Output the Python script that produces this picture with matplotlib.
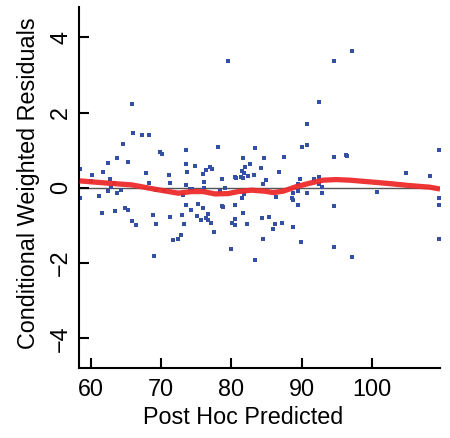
import matplotlib
matplotlib.use("Agg")
import matplotlib.pyplot as plt

plt.rcParams['font.family'] = ['Liberation Sans', 'DejaVu Sans']

pred = [66.02, 67.30, 68.29, 64.59, 69.86, 70.14, 63.74, 62.46, 65.31, 58.44,
        61.75, 60.18, 67.87, 71.14, 62.75, 60.04, 63.31, 68.29, 71.28, 62.89,
        62.46, 64.31, 63.74, 69.29, 70.43, 58.48, 61.18, 61.61, 63.46, 64.88,
        65.31, 68.86, 71.28, 65.87, 66.44, 69.29, 69.00, 65.87, 79.49,
        78.11, 83.37, 73.56, 81.66, 73.56, 74.84, 76.97, 77.25, 76.40, 82.66,
        81.95, 81.52, 81.81, 73.70, 75.97, 83.23, 82.38, 81.38, 81.66, 80.53,
        80.67, 78.68, 84.22, 76.12, 73.56, 74.13, 74.41, 76.12, 79.10, 78.39,
        73.13, 81.81, 81.52, 73.56, 75.26, 75.97, 74.27, 80.53, 78.68, 78.82,
        81.66, 76.69, 72.99, 75.12, 76.40, 75.69, 76.69, 77.11, 80.53, 80.10,
        80.53, 82.23, 73.27, 77.54, 72.84, 72.42, 71.71, 79.96, 83.37,
        90.77, 90.06, 90.77, 84.65, 87.50, 94.61, 96.32, 96.46, 86.79, 84.94,
        84.51, 89.77, 91.76, 92.48, 92.48, 89.49, 92.90, 88.78, 89.49, 90.77,
        92.90, 86.36, 88.63, 88.78, 89.49, 94.61, 84.37, 85.36, 86.22, 87.21,
        85.93, 88.78, 84.51, 89.91, 94.61, 97.17, 94.61, 92.48,
        109.50, 104.85, 108.26, 100.73, 109.50, 109.50, 109.50, 97.17]

resid = [1.455, 1.40, 1.40, 1.16, 0.95, 0.89, 0.79, 0.66, 0.68, 0.50,
         0.42, 0.34, 0.39, 0.34, 0.23, 0.18, 0.125, 0.125, 0.125, 0.02,
         -0.09, -0.06, -0.14, -0.06, -0.09, -0.27, -0.22, -0.67, -0.62, -0.54,
         -0.59, -0.73, -0.78, -0.89, -0.99, -0.97, -1.82, 2.23, 3.37,
         1.08, 1.06, 1.00, 0.79, 0.63, 0.58, 0.55, 0.50, 0.47, 0.63,
         0.55, 0.44, 0.39, 0.42, 0.36, 0.34, 0.31, 0.28, 0.26, 0.28,
         0.26, 0.23, 0.52, 0.15, 0.07, -0.035, -0.035, -0.01, -0.01, -0.09,
         -0.19, -0.17, -0.27, -0.46, -0.43, -0.54, -0.59, -0.46, -0.49, -0.51,
         -0.67, -0.70, -0.73, -0.75, -0.81, -0.86, -0.86, -0.94, -0.83, -0.94,
         -0.99, -0.97, -0.97, -1.18, -1.26, -1.36, -1.39, -1.63, -1.92,
         1.69, 1.08, 1.14, 0.79, 0.82, 0.82, 0.87, 0.84, 0.42, 0.20,
         0.10, 0.23, 0.23, 0.28, 0.10, 0.10, 0.02, -0.14, -0.09, -0.14,
         -0.14, -0.25, -0.27, -0.33, -0.46, -0.49, -0.81, -0.78, -0.97, -0.94,
         -1.10, -1.05, -1.36, -1.44, -1.58, 3.64, 3.37, 2.28,
         1.00, 0.39, 0.31, -0.11, -0.27, -0.46, -1.36, -1.84]

smooth_x = [58.4, 62.46, 65.79, 69.1, 72.42, 74.32, 75.97, 77.64, 79.53, 80.95,
            82.86, 84.75, 85.93, 87.35, 89.26, 91.15, 93.04, 94.95, 96.84, 99.69,
            102.53, 105.38, 108.22, 109.7]
smooth_y = [0.186, 0.125, 0.08, -0.035, -0.141, -0.098, -0.098, -0.16, -0.152, -0.098,
            -0.061, -0.088, -0.125, -0.088, 0.035, 0.125, 0.205, 0.221, 0.205, 0.16,
            0.114, 0.061, 0.019, -0.03]

x_ticks = [60, 70, 80, 90, 100]
y_ticks = [-4, -2, 0, 2, 4]

fig = plt.figure(figsize=(4.5, 4.38), dpi=100)
ax = fig.add_axes([0.1756, 0.1598, 0.8024, 0.8242])

ax.axhline(0, color='#555555', lw=1.0, zorder=1)
ax.plot(pred, resid, linestyle='none', marker='s', ms=2.2, mew=0,
        color='#3350a3', zorder=2)
ax.plot(smooth_x, smooth_y, color='#ee2b2b', lw=3.8, solid_capstyle='butt',
        zorder=3, alpha=0.95)

ax.set_xlim(58.3, 109.7)
ax.set_ylim(-4.79, 4.81)
ax.set_xticks(x_ticks)
ax.set_yticks(y_ticks)
ax.set_yticklabels(['\u22124', '\u22122', '0', '2', '4'])

for s in ['top', 'right']:
    ax.spines[s].set_visible(False)
for s in ['left', 'bottom']:
    ax.spines[s].set_linewidth(1.5)
    ax.spines[s].set_color('black')

ax.tick_params(direction='in', length=7, width=1.5, labelsize=16.8, colors='black')
ax.tick_params(axis='x', pad=7)
ax.tick_params(axis='y', pad=5, labelrotation=90)
for lab in ax.get_yticklabels():
    lab.set_va('center')

ax.set_xlabel('Post Hoc Predicted', fontsize=16.8)
ax.set_ylabel('Conditional Weighted Residuals', fontsize=16.8)
ax.xaxis.set_label_coords(0.454, -0.104)
ax.yaxis.set_label_coords(-0.108, 0.512)

fig.savefig('out.png', dpi=100)
